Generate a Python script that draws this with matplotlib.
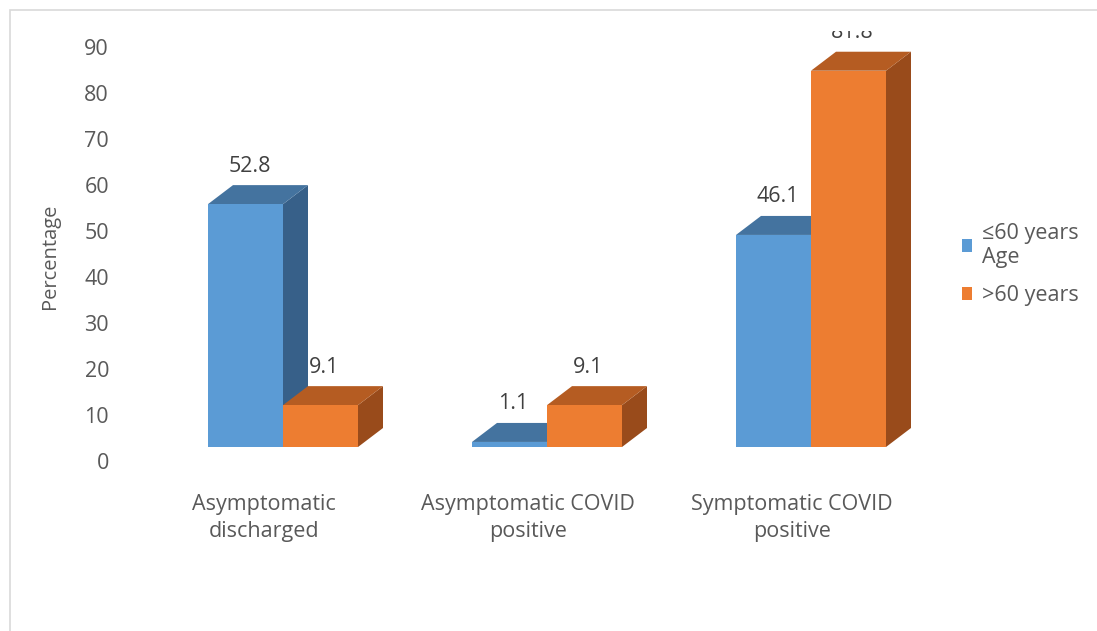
import matplotlib
matplotlib.use("Agg")
import matplotlib.pyplot as plt
from matplotlib.patches import Polygon, Rectangle, Patch
from matplotlib.transforms import Bbox, TransformedBbox, ScaledTranslation

plt.rcParams['font.family'] = ['Open Sans', 'DejaVu Sans']

categories = ["Asymptomatic\ndischarged", "Asymptomatic COVID\npositive", "Symptomatic COVID\npositive"]
series_names = ["\u226460 years\nAge", ">60 years"]
young = [52.8, 1.1, 46.1]
old = [9.1, 9.1, 81.8]
yticks = [0, 10, 20, 30, 40, 50, 60, 70, 80, 90]

front_cols = ["#5B9BD5", "#ED7D31"]
top_cols = ["#44739F", "#B55C22"]
side_cols = ["#376089", "#994B1B"]
text_col = "#595959"
FS = 15.5

W, H = 1097, 631
fig = plt.figure(figsize=(W / 100, H / 100), dpi=100)

# light frame around the chart area
fig.patches.append(Rectangle((10 / W, -0.1), 1.2, 1 - 10 / H + 0.1, transform=fig.transFigure,
                             fill=False, edgecolor="#D9D9D9", linewidth=1.2))

# axes placed so that the floor of the bars sits at y pixel 447
left_px, right_px, top_px, bot_px = 100, 940, 20, 447
ax = fig.add_axes([left_px / W, 1 - bot_px / H, (right_px - left_px) / W, (bot_px - top_px) / H])
px_per_x = 264.0
px_per_y = 4.6
ax.set_xlim((left_px - 283) / px_per_x, (right_px - 283) / px_per_x)
ax.set_ylim(0, (bot_px - top_px) / px_per_y)
for s in ax.spines.values():
    s.set_visible(False)
ax.patch.set_alpha(0)

bw = 75 / px_per_x          # bar width in category units
dx = 25 / px_per_x          # depth offset (horizontal)
dy = 19 / px_per_y          # depth offset (vertical)


def bar3d(x0, h, k):
    x1 = x0 + bw
    side = Polygon([(x1, 0), (x1 + dx, dy), (x1 + dx, h + dy), (x1, h)], closed=True,
                   facecolor=side_cols[k], edgecolor="none", zorder=2)
    top = Polygon([(x0, h), (x1, h), (x1 + dx, h + dy), (x0 + dx, h + dy)], closed=True,
                  facecolor=top_cols[k], edgecolor="none", zorder=2)
    front = Rectangle((x0, 0), bw, h, facecolor=front_cols[k], edgecolor="none", zorder=2)
    for p in (side, top, front):
        p.set_clip_on(False)
        ax.add_patch(p)


clip = TransformedBbox(Bbox([[0, 0], [1, 1 - 31 / H]]), fig.transFigure)
for i in range(len(categories)):
    for k, vals in enumerate([young, old]):
        x0 = i - bw if k == 0 else i
        bar3d(x0, vals[i], k)
        t = ax.annotate(f"{vals[i]:.1f}", xy=(x0 + bw / 2, vals[i]), xytext=(4, 38),
                        textcoords="offset pixels", ha="center", va="center",
                        fontsize=FS, color="#404040", zorder=5)
        t.set_clip_on(True)
        t.set_clip_box(clip)

# y tick labels sit on the back wall, a little below the front floor
ax.set_yticks(yticks)
ax.set_yticklabels([str(v) for v in yticks])
ax.tick_params(axis="y", length=0, labelsize=FS, labelcolor=text_col, pad=0)
for lab in ax.get_yticklabels():
    lab.set_horizontalalignment("right")
    lab.set_x(-(left_px - 109) / (right_px - left_px))
    lab.set_transform(ax.get_yaxis_transform() + ScaledTranslation(0, -0.14, fig.dpi_scale_trans))

ax.set_xticks(range(len(categories)))
ax.set_xticklabels(categories, linespacing=1.35)
ax.tick_params(axis="x", length=0, labelsize=FS, labelcolor=text_col, pad=34)
for lab in ax.get_xticklabels():
    lab.set_transform(lab.get_transform() + ScaledTranslation(-0.19, 0, fig.dpi_scale_trans))

fig.text(50 / W, 1 - 256 / H, "Percentage", rotation=90, ha="center", va="center",
         fontsize=14.5, color=text_col)

handles = [Patch(facecolor=c, edgecolor="none") for c in front_cols]
fig.legend(handles, series_names, loc="upper left", bbox_to_anchor=(953 / W, 1 - 214 / H),
           frameon=False, fontsize=FS, labelcolor=text_col, handlelength=0.5,
           handleheight=0.5, handletextpad=0.45, labelspacing=0.8, borderaxespad=0)

fig.savefig("out.png", dpi=100)
